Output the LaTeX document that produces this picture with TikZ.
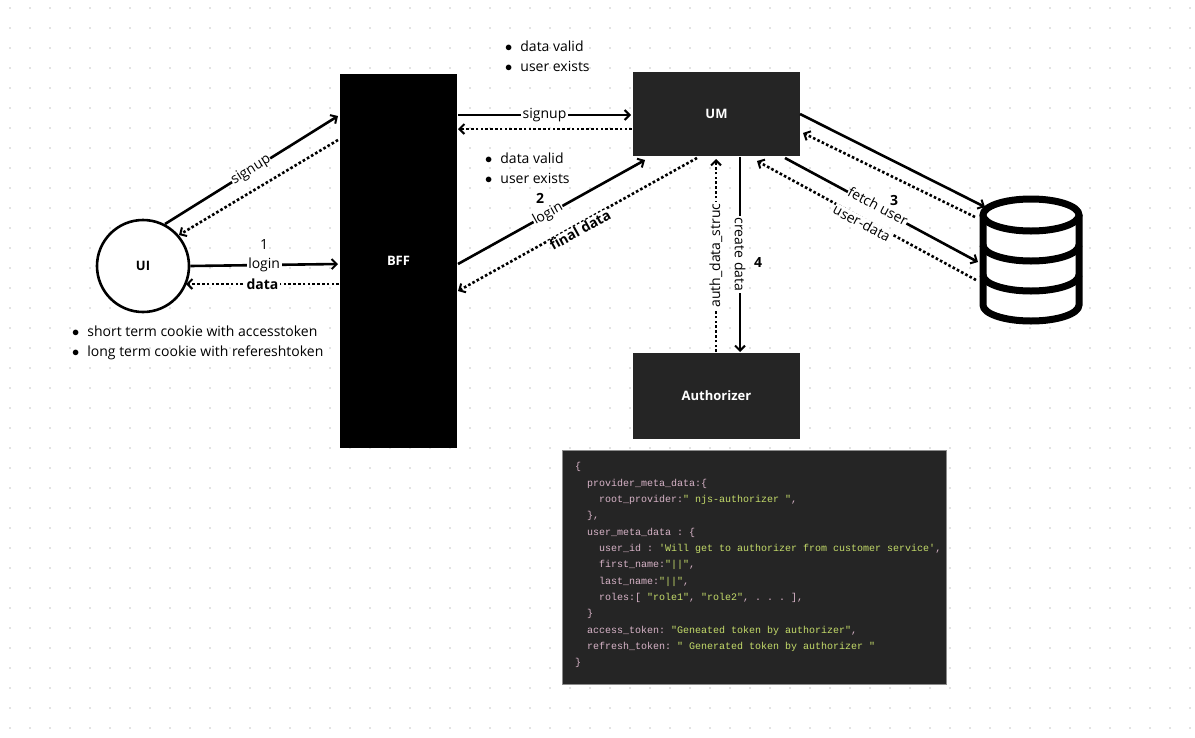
\documentclass[tikz,border=0pt]{standalone}
\usepackage{fontspec}
\setmainfont{Open Sans}
\setmonofont{Liberation Mono}
\usetikzlibrary{arrows.meta,shapes.geometric}
\definecolor{codebg}{HTML}{252525}
\definecolor{codekey}{HTML}{D8B4C8}
\definecolor{codestr}{HTML}{C5DC6A}
\begin{document}
\begin{tikzpicture}[x=1pt,y=-1pt,
  sol/.style={line width=2.6pt,-{Straight Barb[length=5pt,width=10pt,line width=2pt]}},
  dot/.style={line width=2.6pt,dash pattern=on 2.6pt off 2.2pt,-{Straight Barb[length=5pt,width=10pt,line width=2pt]}},
  txt/.style={font=\fontsize{14}{16}\selectfont},
  lbl/.style={txt,fill=white,inner sep=1.5pt},
  blbl/.style={lbl,font=\fontsize{14}{16}\selectfont\bfseries},
  box/.style={fill=#1,draw=none,text=white,font=\fontsize{13}{15}\selectfont\bfseries},
  ck/.style={anchor=west,inner sep=0,font=\ttfamily\fontsize{10}{11}\selectfont,text=codekey},
]
\useasboundingbox (0,0) rectangle (1195,737);
\fill[white] (0,0) rectangle (1195,737);
\foreach \i in {0,...,59}{\foreach \j in {0,...,36}{\fill[black!22] (10+20*\i,8+20*\j) circle (0.9);}}
% nodes
\node[circle,draw,line width=2.6pt,fill=white,minimum size=92pt,font=\fontsize{13}{15}\selectfont\bfseries] (ui) at (143,266) {UI};
\node[box=black,minimum width=117pt,minimum height=374pt] (bff) at (398.5,261) {BFF};
\node[box=codebg,minimum width=167pt,minimum height=84pt] (um) at (716.5,114) {UM};
\node[box=codebg,minimum width=167pt,minimum height=86pt] (auth) at (716.5,396) {Authorizer};
% database
\begin{scope}[line width=7pt]
\coordinate (db) at (1031,260);
\draw[fill=white] (983,215) -- (983,305) arc[start angle=180,end angle=0,x radius=48,y radius=16] -- (1079,215);
\draw[fill=white] (1031,215) ellipse[x radius=48,y radius=16];
\draw (983,245) arc[start angle=180,end angle=0,x radius=48,y radius=16];
\draw (983,275) arc[start angle=180,end angle=0,x radius=48,y radius=16];
\end{scope}
\coordinate (dbA) at (985,207);
\coordinate (dbB) at (975,217);
\coordinate (dbC) at (978,262);
\coordinate (dbD) at (976,280);
% UI <-> BFF
\coordinate (bffS) at (338,116); \coordinate (bffSd) at (338,140);
\draw[sol] (165,224) -- (bffS);
\node[lbl,rotate=32,inner sep=0.5pt] (su) at (251,170) {signup};
\draw[dot] (bffSd) -- (179,235);
\draw[sol] (ui.east) -- node[lbl]{login} (338,264);
\node[txt] (n1) at (264,244) {1};
\draw[dot] (339,284) -- node[blbl]{data} (186,284);
% BFF <-> UM
\draw[sol] (458,115) -- node[lbl]{signup} (631,115);
\draw[dot] (632,129) -- (458,129);
\draw[sol] (458,264) -- (645,160);
\node[lbl,rotate=29,inner sep=0.5pt] (lg) at (548,214) {login};
\node[txt,font=\fontsize{14}{16}\selectfont\bfseries] (n2) at (540,198) {2};
\draw[dot] (697,158) -- (458,291);
\node[blbl,rotate=29,inner sep=0.5pt] (fd) at (580,230) {final data};
% UM <-> DB
\draw[sol] (800,114) -- (dbA);
\draw[dot] (dbB) -- (803,133);
\draw[sol] (785,158) -- (dbC);
\draw[dot] (dbD) -- (757,161);
\node[lbl,rotate=-28,inner sep=0.5pt] (fu) at (878,206) {fetch user};
\node[lbl,rotate=-28,inner sep=0.5pt] (ud) at (862,223) {user-data};
\node[txt,font=\fontsize{14}{16}\selectfont\bfseries] (n3) at (894,200) {3};
% UM <-> Authorizer
\draw[dot] (716,352) -- node[lbl,rotate=90]{auth\_data\_struc} (716,159);
\draw[sol] (740,157) -- node[lbl,rotate=-90]{create data} (740,352);
\node[txt,font=\fontsize{14}{16}\selectfont\bfseries] (n4) at (758,262) {4};
% bullet lists
\begin{scope}[every node/.style={anchor=west,inner sep=0,font=\fontsize{14}{16}\selectfont}]
\node (b1) at (505,46) {$\bullet$\hspace{8pt}data valid};
\node (b2) at (505,66) {$\bullet$\hspace{8pt}user exists};
\node (b3) at (485,158) {$\bullet$\hspace{8pt}data valid};
\node (b4) at (485,178) {$\bullet$\hspace{8pt}user exists};
\node (b5) at (72,331) {$\bullet$\hspace{8pt}short term cookie with accesstoken};
\node (b6) at (72,353) {$\bullet$\hspace{8pt}long term cookie with refereshtoken};
\end{scope}
% code block
\node[draw=black!45,line width=1pt,fill=codebg,minimum width=384pt,minimum height=234pt,inner sep=0] (code) at (754,567) {};
\node[ck] at (575,467) {\{};
\node[ck] at (587,484) {provider\_meta\_data:\{};
\node[ck] at (599,500) {root\_provider:\textcolor{codestr}{" njs-authorizer "},};
\node[ck] at (587,516) {\},};
\node[ck] at (587,533) {user\_meta\_data : \{};
\node[ck] at (599,549) {user\_id : \textcolor{codestr}{'Will get to authorizer from customer service'},};
\node[ck] at (599,565) {first\_name:\textcolor{codestr}{"||"},};
\node[ck] at (599,582) {last\_name:\textcolor{codestr}{"||"},};
\node[ck] at (599,598) {roles:[ \textcolor{codestr}{"role1"}, \textcolor{codestr}{"role2"}, . . . ],};
\node[ck] at (587,614) {\}};
\node[ck] at (587,631) {access\_token: \textcolor{codestr}{"Geneated token by authorizer"},};
\node[ck] at (587,647) {refresh\_token: \textcolor{codestr}{" Generated token by authorizer "}};
\node[ck] at (575,663) {\}};
\end{tikzpicture}
\end{document}
